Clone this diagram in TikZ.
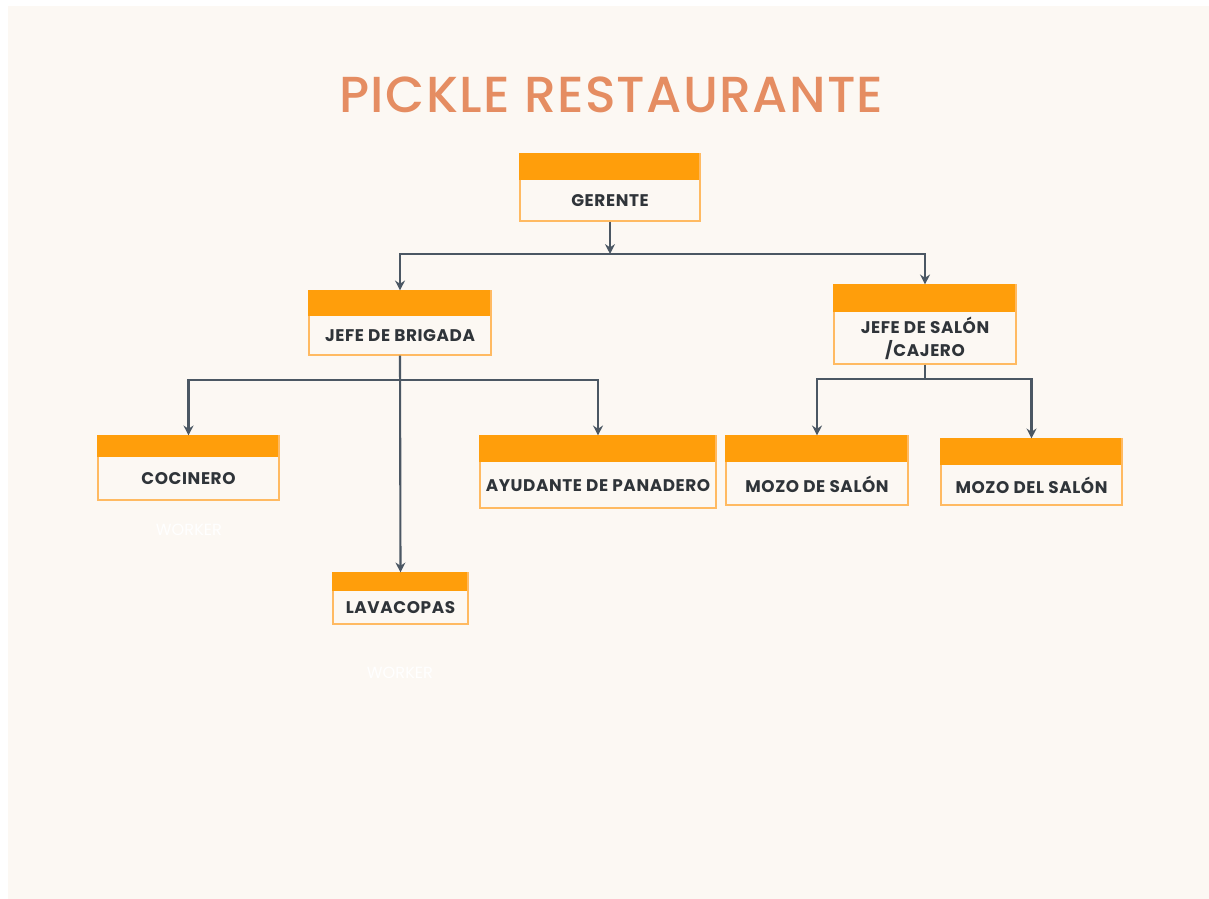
\documentclass[tikz,border=0pt]{standalone}
\usepackage{fontspec}
\setmainfont{Poppins}
\newfontfamily\titlefont{Poppins Medium}[LetterSpace=2.5]
\usetikzlibrary{arrows.meta,calc}

\definecolor{fondo}{HTML}{FCF8F3}
\definecolor{naranja}{HTML}{FF9E0B}
\definecolor{bordecaja}{HTML}{FFBA62}
\definecolor{textocaja}{HTML}{2F3439}
\definecolor{conector}{HTML}{4B5763}
\definecolor{titulo}{HTML}{E58D62}

\newcommand{\pxu}{0.025cm}
% name, x, y, width, height, band, text
\newcommand{\Cargo}[7]{%
  \node[caja, minimum width=#4*\pxu, minimum height=#5*\pxu] (#1) at (#2,#3) {};
  \fill[naranja] (#1.north west) rectangle ++(#4,#6);
  \node[rotulo] (#1-txt) at ($(#1)+(0,#6/2)$) {#7};
}

\begin{document}
\begin{tikzpicture}[x=0.025cm, y=-0.025cm,
  caja/.style={draw=bordecaja, fill=fondo, line width=0.8pt, inner sep=0pt},
  rotulo/.style={font=\bfseries\fontsize{12}{16.5}\selectfont\addfontfeature{LetterSpace=3.5}, text=textocaja, align=center, inner sep=0pt},
  nota/.style={font=\fontsize{11.5}{14}\selectfont, text=white, inner sep=0pt},
  enlace/.style={draw=conector, line width=1.5pt},
  flecha/.style={enlace, -{Stealth[length=7pt, width=7pt]}}]
\useasboundingbox (0,0) rectangle (1209,899);
\fill[white] (0,0) rectangle (1209,899);
\fill[fondo] (8,6) rectangle (1209,899);

\node[font=\titlefont\fontsize{36}{40}\selectfont, text=titulo] (titulo) at (611.5,95) {PICKLE RESTAURANTE};

\Cargo{gerente}{610}{187.5}{180}{67}{27}{GERENTE}
\Cargo{brigada}{400}{323}{182}{64}{26}{JEFE DE BRIGADA}
\Cargo{salon}{925}{324.5}{182}{79}{28}{JEFE DE SALÓN\\/CAJERO}
\Cargo{cocinero}{188.5}{468}{181}{64}{22}{COCINERO}
\Cargo{lavacopas}{400.5}{598.5}{135}{51}{19}{LAVACOPAS}
\Cargo{ayudante}{598}{472}{236}{72}{27}{AYUDANTE DE PANADERO}
\Cargo{mozo1}{817}{470.5}{182}{69}{27}{MOZO DE SALÓN}
\Cargo{mozo2}{1031.5}{472}{181}{66}{27}{MOZO DEL SALÓN}

\node[nota] (cocinero-nota) at (189,530) {WORKER};
\node[nota] (lavacopas-nota) at (400,673) {WORKER};

\coordinate (bus-g) at (610,254);
\coordinate (bus-b) at (400,380);
\coordinate (bus-s) at (925,379);

\draw[flecha] (gerente.south) -- (bus-g);
\draw[flecha] (bus-g) -| (brigada.north);
\draw[flecha] (bus-g) -| (salon.north);
\draw[flecha] (brigada.south) -- (lavacopas.north);
\draw[flecha] (bus-b) -| (cocinero.north);
\draw[flecha] (bus-b) -| (ayudante.north);
\draw[enlace] (salon.south) -- (bus-s);
\draw[flecha] (bus-s) -| (mozo1.north);
\draw[flecha] (bus-s) -| (mozo2.north);
\end{tikzpicture}
\end{document}
